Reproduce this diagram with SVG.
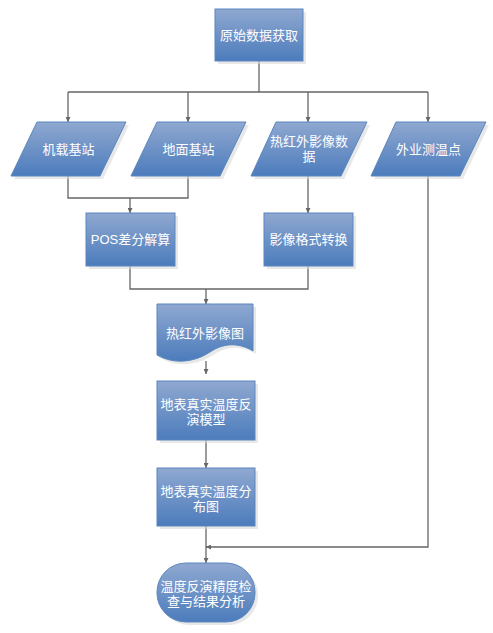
<svg xmlns="http://www.w3.org/2000/svg" width="493" height="633" viewBox="0 0 493 633">
<defs>
<linearGradient id="g" x1="0" y1="0" x2="0" y2="1">
<stop offset="0" stop-color="#8fa8d0"/>
<stop offset="1" stop-color="#4c7cbc"/>
</linearGradient>
<marker id="ah" viewBox="0 0 10 10" refX="10" refY="5" markerWidth="5" markerHeight="5" orient="auto" markerUnits="userSpaceOnUse">
<path d="M0,0 L10,5 L0,10 Z" fill="#666"/>
</marker>
</defs>
<style>
.s{fill:url(#g);stroke:#5a86c0;stroke-width:1}
.sh{fill:#d9d9d9;opacity:0.6}
.t{font-family:"Liberation Sans","Noto Sans CJK SC",sans-serif;font-size:13px;fill:#fff;text-anchor:middle}
.c{fill:none;stroke:#666;stroke-width:1.3}
.a{marker-end:url(#ah)}
</style>
<rect width="493" height="633" fill="#fff"/>
<g id="connectors">
<path class="c" d="M259,61 V92 M68,92 H428"/>
<path class="c a" d="M68,92 V122"/>
<path class="c a" d="M188,92 V122"/>
<path class="c a" d="M308,92 V122"/>
<path class="c a" d="M428,92 V122"/>
<path class="c" d="M68,176 V198 H188 V176"/>
<path class="c a" d="M130,198 V213"/>
<path class="c a" d="M308,176 V213"/>
<path class="c" d="M130,266 V289 H308 V266"/>
<path class="c a" d="M206,289 V304"/>
<path class="c a" d="M206,361 V374"/>
<path class="c a" d="M206,440 V468"/>
<path class="c a" d="M206,526 V563"/>
<path class="c a" d="M428,176 V547 H206"/>
</g>
<g id="n1">
<rect class="sh" x="218" y="12" width="88" height="52"/>
<rect class="s" x="215" y="9" width="88" height="52"/>
<text class="t" x="259" y="40">原始数据获取</text>
</g>
<g id="n2">
<path class="sh" d="M40,125 H129 L103,179 H14 Z"/>
<path class="s" d="M37,122 H126 L100,176 H11 Z"/>
<text class="t" x="68.5" y="154">机载基站</text>
</g>
<g id="n3">
<path class="sh" d="M160,125 H249 L223,179 H134 Z"/>
<path class="s" d="M157,122 H246 L220,176 H131 Z"/>
<text class="t" x="188.5" y="154">地面基站</text>
</g>
<g id="n4">
<path class="sh" d="M279,125 H370 L344,179 H254 Z"/>
<path class="s" d="M276,122 H367 L341,176 H251 Z"/>
<text class="t" x="309" y="146">热红外影像数<tspan x="309" dy="15">据</tspan></text>
</g>
<g id="n5">
<path class="sh" d="M399,125 H489 L463,179 H374 Z"/>
<path class="s" d="M396,122 H486 L460,176 H371 Z"/>
<text class="t" x="428.5" y="154">外业测温点</text>
</g>
<g id="n6">
<rect class="sh" x="89" y="216" width="89" height="53"/>
<rect class="s" x="86" y="213" width="89" height="53"/>
<text class="t" x="130.5" y="244">POS差分解算</text>
</g>
<g id="n7">
<rect class="sh" x="267" y="216" width="89" height="53"/>
<rect class="s" x="264" y="213" width="89" height="53"/>
<text class="t" x="308.5" y="244">影像格式转换</text>
</g>
<g id="n8">
<path class="sh" d="M160,307 H256 V354 C243,346 228,345 213,355 C198,365 178,368 160,358 Z"/>
<path class="s" d="M157,304 H253 V351 C240,343 225,342 210,352 C195,362 175,365 157,355 Z"/>
<text class="t" x="205" y="338">热红外影像图</text>
</g>
<g id="n9">
<rect class="sh" x="160" y="384" width="98" height="59"/>
<rect class="s" x="157" y="381" width="98" height="59"/>
<text class="t" x="206" y="409">地表真实温度反<tspan x="206" dy="15">演模型</tspan></text>
</g>
<g id="n10">
<rect class="sh" x="160" y="471" width="98" height="58"/>
<rect class="s" x="157" y="468" width="98" height="58"/>
<text class="t" x="206" y="496">地表真实温度分<tspan x="206" dy="15">布图</tspan></text>
</g>
<g id="n11">
<rect class="sh" x="160" y="566" width="98" height="59" rx="29" ry="29"/>
<rect class="s" x="157" y="563" width="98" height="59" rx="29" ry="29"/>
<text class="t" x="206" y="591">温度反演精度检<tspan x="206" dy="15">查与结果分析</tspan></text>
</g>
</svg>
